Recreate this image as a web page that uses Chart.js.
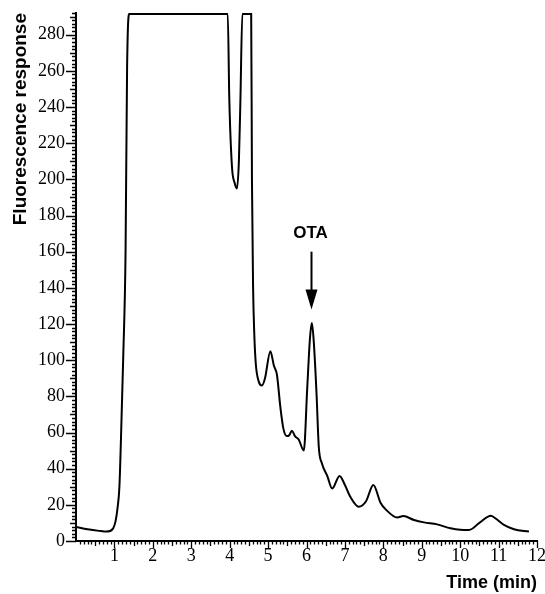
<!DOCTYPE html>
<html>
<head>
<meta charset="utf-8">
<script src="https://cdn.jsdelivr.net/npm/chart.js@4.4.1/dist/chart.umd.min.js"></script>
<style>
body{margin:0;background:#fff;}
</style>
</head>
<body>
<canvas id="myChart" width="545" height="594"></canvas>
<script>
// retention time (min) and detector signal
var timeMin = [0, 0.3, 0.6, 0.8, 0.95, 1.03, 1.08, 1.13, 1.17, 1.23, 1.29, 1.33, 1.39,
    3.95, 3.99, 4.06, 4.13, 4.19, 4.24, 4.28, 4.33, 4.56, 4.58, 4.61, 4.64, 4.68,
    4.76, 4.84, 4.92, 5.06, 5.15, 5.23, 5.32, 5.4, 5.49, 5.55, 5.62, 5.7, 5.8, 5.93,
    6.02, 6.09, 6.14, 6.19, 6.26, 6.32, 6.4, 6.54, 6.67, 6.86, 7.0, 7.14, 7.36, 7.55,
    7.74, 7.93, 8.06, 8.36, 8.52, 8.8, 9.06, 9.4, 9.75, 10.0, 10.23, 10.5, 10.8,
    10.95, 11.14, 11.4, 11.79];
var response = [7.8, 6.5, 5.6, 5.2, 6.5, 11, 18, 30, 56, 102, 160, 262, 291.5,
    291.5, 245, 207, 198, 195, 210, 244, 291.5, 291.5, 200, 140, 115, 98,
    88, 86, 90, 105, 97, 92, 74, 62, 58, 58.5, 61, 58, 56, 50,
    85, 112, 120.5, 110, 82, 52, 43, 36, 29, 36, 31, 24.5, 19, 22,
    31, 21, 17.5, 13, 13.8, 11.6, 10.3, 9.2, 7, 6.2, 6.1, 10, 14,
    12, 8.9, 6.5, 5.2];
var yTickLabels = [0, 20, 40, 60, 80, 100, 120, 140, 160, 180, 200, 220, 240, 260, 280];
var xTickLabels = [1, 2, 3, 4, 5, 6, 7, 8, 9, 10, 11, 12];

// OTA marker
var otaLabel = 'OTA';
var otaTime = 6.13;

var points = [];
for (var i = 0; i < timeMin.length; i++) {
    points.push({x: timeMin[i], y: response[i]});
}

var serif = '"Liberation Serif", "Times New Roman", serif';
var sans = '"Liberation Sans", Arial, sans-serif';

// draws the tick marks (major / medium / minor) and the OTA arrow
var axisMarks = {
    id: 'axisMarks',
    afterDraw: function(chart) {
        var ctx = chart.ctx;
        var xs = chart.scales.x;
        var ys = chart.scales.y;
        var left = chart.chartArea.left;
        var bottom = chart.chartArea.bottom;
        ctx.save();
        ctx.strokeStyle = '#000';
        ctx.lineWidth = 1.3;
        ctx.beginPath();
        for (var v = 0; v <= 292; v += 2) {
            var py = Math.round(ys.getPixelForValue(v)) + 0.5;
            var len = (v % 20 === 0) ? 10 : ((v % 10 === 0) ? 6 : 4);
            ctx.moveTo(left, py);
            ctx.lineTo(left - len, py);
        }
        for (var k = 1; k <= 120; k++) {
            var px = Math.round(xs.getPixelForValue(k / 10)) + 0.5;
            var l2 = (k % 10 === 0) ? 7 : ((k % 5 === 0) ? 5 : 3.5);
            ctx.moveTo(px, bottom);
            ctx.lineTo(px, bottom + l2);
        }
        ctx.stroke();

        // arrow + label
        var ax = xs.getPixelForValue(otaTime);
        var yTop = ys.getPixelForValue(160);
        var yTip = ys.getPixelForValue(128);
        ctx.lineWidth = 2;
        ctx.beginPath();
        ctx.moveTo(ax, yTop);
        ctx.lineTo(ax, yTip - 15);
        ctx.stroke();
        ctx.fillStyle = '#000';
        ctx.beginPath();
        ctx.moveTo(ax - 6, yTip - 20);
        ctx.lineTo(ax + 6, yTip - 20);
        ctx.lineTo(ax, yTip);
        ctx.closePath();
        ctx.fill();
        ctx.font = 'bold 17px ' + sans;
        ctx.textAlign = 'center';
        ctx.textBaseline = 'middle';
        ctx.fillText(otaLabel, ax - 1, ys.getPixelForValue(170));
        ctx.restore();
    }
};

var ctx = document.getElementById('myChart').getContext('2d');
var myChart = new Chart(ctx, {
    type: 'line',
    data: {
        datasets: [{
            data: points,
            borderColor: '#000',
            borderWidth: 2,
            pointRadius: 0,
            fill: false,
            cubicInterpolationMode: 'monotone'
        }]
    },
    options: {
        responsive: false,
        animation: false,
        layout: {padding: {top: 13, right: 8, left: 0, bottom: 0}},
        plugins: {legend: {display: false}, tooltip: {enabled: false}},
        scales: {
            x: {
                type: 'linear',
                min: 0,
                max: 12,
                afterFit: function(scale) {
                    scale.height = 53;
                    scale.paddingLeft = 0;
                    scale.paddingRight = 0;
                },
                afterBuildTicks: function(scale) {
                    scale.ticks = xTickLabels.map(function(v) { return {value: v}; });
                },
                grid: {display: false, drawTicks: false},
                border: {display: true, color: '#000', width: 2},
                ticks: {
                    color: '#000',
                    padding: 4,
                    maxRotation: 0,
                    font: {family: serif, size: 18}
                },
                title: {
                    display: true,
                    text: 'Time (min)',
                    align: 'end',
                    color: '#000',
                    padding: {top: 0, bottom: 0},
                    font: {family: sans, size: 18, weight: 'bold'}
                }
            },
            y: {
                type: 'linear',
                min: 0,
                max: 292,
                afterFit: function(scale) {
                    scale.width = 76;
                    scale.paddingTop = 0;
                    scale.paddingBottom = 0;
                },
                afterBuildTicks: function(scale) {
                    scale.ticks = yTickLabels.map(function(v) { return {value: v}; });
                },
                grid: {display: false, drawTicks: false},
                border: {display: true, color: '#000', width: 2},
                ticks: {
                    color: '#000',
                    padding: 11,
                    font: {family: serif, size: 18}
                },
                title: {
                    display: true,
                    text: 'Fluorescence response',
                    align: 'end',
                    color: '#000',
                    padding: {top: 9, bottom: 0},
                    font: {family: sans, size: 19, weight: 'bold'}
                }
            }
        }
    },
    plugins: [axisMarks]
});
</script>
</body>
</html>
